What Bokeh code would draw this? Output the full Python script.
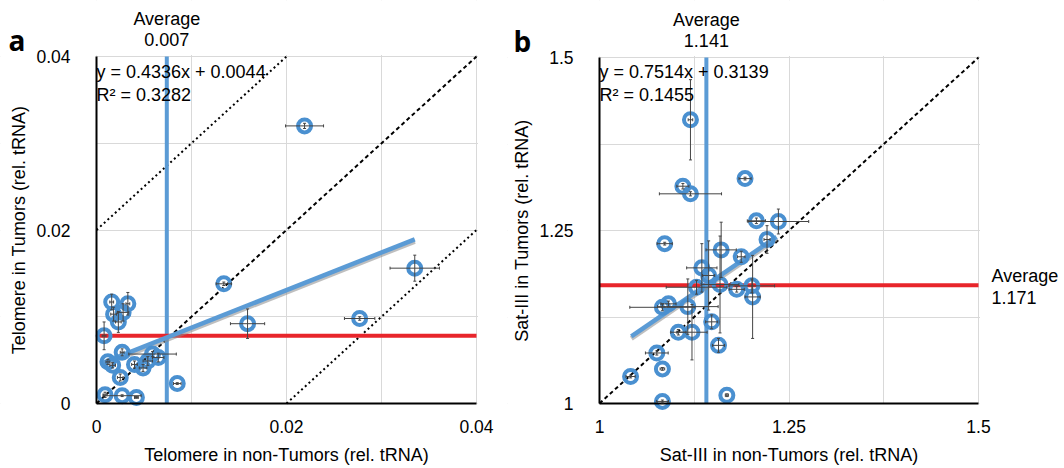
from bokeh.plotting import figure
from bokeh.layouts import row
from bokeh.models import Range1d, FixedTicker, Label, Whisker, TeeHead, ColumnDataSource
from bokeh.embed import file_html
from bokeh.resources import INLINE

# ---------------- data: panel a (Telomere) ----------------
a_x = [0.0219, 0.0134, 0.0159, 0.0277, 0.0335, 0.0085, 0.0008, 0.0016, 0.0033, 0.0018,
       0.0028, 0.0023, 0.0027, 0.0012, 0.0017, 0.0040, 0.0049, 0.0054, 0.0059, 0.0065,
       0.0025, 0.0009, 0.0027, 0.0042]
a_y = [0.0320, 0.0138, 0.0092, 0.0098, 0.0156, 0.0023, 0.0078, 0.0117, 0.0115, 0.0103,
       0.0105, 0.0094, 0.0059, 0.0048, 0.0044, 0.0045, 0.0041, 0.0049, 0.0057, 0.0053,
       0.0030, 0.0010, 0.0009, 0.0007]
a_xerr = [0.0020, 0.0008, 0.0018, 0.0016, 0.0026, 0.0004, 0.0002, 0.0002, 0.0002, 0.0003,
          0.0006, 0.0003, 0.0002, 0.0002, 0.0003, 0.0003, 0.0004, 0.0005, 0.0025, 0.0006,
          0.0003, 0.0002, 0.0020, 0.0002]
a_yerr = [0.0003, 0.0002, 0.0017, 0.0002, 0.0015, 0.0001, 0.0016, 0.0009, 0.0013, 0.0008,
          0.0010, 0.0012, 0.0004, 0.0003, 0.0003, 0.0004, 0.0004, 0.0005, 0.0003, 0.0005,
          0.0004, 0.0003, 0.0001, 0.0001]
a_fit_slope, a_fit_icpt = 0.4336, 0.0044
a_fit_x = [0.0006, 0.0335]
a_avg_x, a_avg_y = 0.0074, 0.0078
a_avg_label = "0.007"
a_eq = "y = 0.4336x + 0.0044"
a_r2 = "R² = 0.3282"
a_ticks = [0, 0.02, 0.04]
a_grid = [0, 0.01, 0.02, 0.03, 0.04]
a_tick_labels = {0: "0", 0.02: "0.02", 0.04: "0.04"}

# ---------------- data: panel b (Sat-III) ----------------
b_x = [1.120, 1.192, 1.110, 1.120, 1.207, 1.236, 1.086, 1.221, 1.1605, 1.187,
       1.135, 1.144, 1.128, 1.159, 1.181, 1.201, 1.202, 1.083, 1.091, 1.1165,
       1.148, 1.104, 1.122, 1.157, 1.0756, 1.083, 1.041, 1.083, 1.168]
b_y = [1.410, 1.325, 1.314, 1.303, 1.264, 1.263, 1.231, 1.237, 1.222, 1.212,
       1.196, 1.185, 1.168, 1.172, 1.165, 1.170, 1.154, 1.139, 1.144, 1.140,
       1.118, 1.103, 1.103, 1.084, 1.073, 1.050, 1.039, 1.003, 1.012]
b_xerr = [0.003, 0.008, 0.008, 0.041, 0.012, 0.040, 0.010, 0.004, 0.020, 0.005,
          0.020, 0.008, 0.040, 0.025, 0.010, 0.030, 0.010, 0.043, 0.010, 0.040,
          0.008, 0.010, 0.020, 0.008, 0.015, 0.003, 0.006, 0.008, 0.002]
b_yerr = [0.058, 0.002, 0.004, 0.003, 0.004, 0.018, 0.002, 0.020, 0.040, 0.008,
          0.035, 0.050, 0.010, 0.070, 0.004, 0.010, 0.060, 0.005, 0.004, 0.040,
          0.010, 0.004, 0.040, 0.010, 0.003, 0.002, 0.002, 0.002, 0.002]
b_fit_slope, b_fit_icpt = 0.7514, 0.3139
b_fit_x = [1.042, 1.2335]
b_avg_x, b_avg_y = 1.141, 1.171
b_avg_x_label = "1.141"
b_avg_y_label = "1.171"
b_eq = "y = 0.7514x + 0.3139"
b_r2 = "R² = 0.1455"
b_ticks = [1, 1.25, 1.5]
b_grid = [1, 1.125, 1.25, 1.375, 1.5]
b_tick_labels = {1: "1", 1.25: "1.25", 1.5: "1.5"}

BLUE = "#4a90d0"
BLUE_LINE = "#5b9bd5"
RED = "#e8252b"
GRID = "#d9d9d9"
ERR = "#444444"
FONT = "Liberation Sans"
FS = "18px"
FS_TICK = "17.5px"

# page layout (pixels) ------------------------------------------------------
OX, OY = 1, 1          # where the page puts the first figure (measured)
FIG_H = 466
WA, WB = 507, 554


class Panel:
    """Maps page pixels to data for a figure whose frame fills the whole figure."""

    def __init__(self, left, width, px0, px1, py0, py1, x0, x1, y0, y1):
        self.left, self.width = left, width
        self.kx = (x1 - x0) / (px1 - px0)
        self.ky = (y1 - y0) / (py0 - py1)
        self.px0, self.py0, self.x0, self.y0 = px0, py0, x0, y0
        self.lim = (x0, x1, y0, y1)

    def x(self, px):
        return self.x0 + (px - self.px0) * self.kx

    def y(self, py):
        return self.y0 + (self.py0 - py) * self.ky


def make_panel(g, xlabel, ylabel, ticks, grid, tick_labels):
    x0, x1, y0, y1 = g.lim
    xr = Range1d(g.x(g.left), g.x(g.left + g.width))
    yr = Range1d(g.y(OY + FIG_H), g.y(OY))
    p = figure(output_backend="svg", toolbar_location=None, title=None,
               frame_width=g.width, frame_height=FIG_H,
               min_border_left=0, min_border_right=0,
               min_border_top=0, min_border_bottom=0,
               x_range=xr, y_range=yr)
    p.outline_line_color = None
    p.background_fill_color = "white"
    p.border_fill_color = "white"
    for ax in (p.xaxis, p.yaxis):
        ax.ticker = FixedTicker(ticks=ticks)
        ax.major_label_overrides = tick_labels
        ax.major_tick_line_color = None
        ax.minor_tick_line_color = None
        ax.axis_line_color = "black"
        ax.axis_line_width = 2
        ax.major_label_text_font = FONT
        ax.major_label_text_font_size = FS_TICK
        ax.major_label_text_color = "black"
        ax.axis_label_text_font = FONT
        ax.axis_label_text_font_size = FS
        ax.axis_label_text_font_style = "normal"
        ax.axis_label_text_color = "black"
    p.xaxis.bounds = (x0, x1)
    p.yaxis.bounds = (y0, y1)
    p.xaxis.fixed_location = y0
    p.yaxis.fixed_location = x0
    p.xaxis.axis_label = xlabel
    p.yaxis.axis_label = ylabel
    p.yaxis.major_label_standoff = 20
    p.xaxis.major_label_standoff = 10
    p.yaxis.axis_label_standoff = 4
    p.xaxis.axis_label_standoff = 9
    p.xgrid.ticker = FixedTicker(ticks=grid)
    p.ygrid.ticker = FixedTicker(ticks=grid)
    p.grid.grid_line_color = GRID
    p.grid.grid_line_width = 1
    # white masks so that grid lines stay inside the plotting area
    X0, X1, Y0, Y1 = xr.start, xr.end, yr.start, yr.end
    ex = 1.5 * g.kx
    ey = 1.5 * g.ky
    p.quad(left=[X0, x1 + ex, X0, X0], right=[x0, X1, X1, X1],
           bottom=[Y0, Y0, Y0, y1 + ey], top=[Y1, Y1, y0, Y1],
           fill_color="white", line_color=None)
    return p


def add_points(p, xs, ys, xe, ye):
    p.scatter(xs, ys, marker="circle", size=13, line_width=4,
              line_color=BLUE, fill_color=None)
    src = ColumnDataSource(dict(
        x=xs, y=ys,
        xl=[a - b for a, b in zip(xs, xe)], xu=[a + b for a, b in zip(xs, xe)],
        yl=[a - b for a, b in zip(ys, ye)], yu=[a + b for a, b in zip(ys, ye)]))
    for dim, lo, hi, base in (("width", "xl", "xu", "y"), ("height", "yl", "yu", "x")):
        w = Whisker(source=src, base=base, lower=lo, upper=hi, dimension=dim,
                    line_color=ERR, line_width=1,
                    upper_head=TeeHead(size=3, line_width=1, line_color=ERR),
                    lower_head=TeeHead(size=3, line_width=1, line_color=ERR),
                    level="overlay")
        p.add_layout(w)


def add_fit(p, fx, slope, icpt, dy_shadow):
    fy = [slope * v + icpt for v in fx]
    p.line(fx, [v - dy_shadow for v in fy], line_color="#8a8a8a",
           line_alpha=0.55, line_width=5)
    p.line(fx, fy, line_color=BLUE_LINE, line_width=4.5)


def lab(p, x, y, text, align="left", size=FS, bold=False, font=FONT, baseline="middle"):
    p.add_layout(Label(x=x, y=y, text=text, text_align=align, text_baseline=baseline,
                       text_font=font, text_font_size=size, text_color="black",
                       text_font_style="bold" if bold else "normal", level="overlay"))


# ---------------- panel a ----------------
ga = Panel(OX, WA, 97, 477, 404, 57, 0.0, 0.04, 0.0, 0.04)
pa = make_panel(ga, "Telomere in non-Tumors (rel. tRNA)", "Telomere in Tumors (rel. tRNA)",
                a_ticks, a_grid, a_tick_labels)
pa.line([0, 0.04], [0, 0.04], line_color="black", line_width=2, line_dash="4 3")
pa.line([0, 0.02], [0.02, 0.04], line_color="black", line_width=2, line_dash="2 3")
pa.line([0.02, 0.04], [0, 0.02], line_color="black", line_width=2, line_dash="2 3")
pa.line([a_avg_x, a_avg_x], [0, 0.04], line_color=BLUE_LINE, line_width=4)
pa.line([0, 0.04], [a_avg_y, a_avg_y], line_color=RED, line_width=4)
add_fit(pa, a_fit_x, a_fit_slope, a_fit_icpt, 2 * ga.ky)
add_points(pa, a_x, a_y, a_xerr, a_yerr)
lab(pa, ga.x(97), ga.y(72), a_eq)
lab(pa, ga.x(97), ga.y(95), a_r2)
lab(pa, a_avg_x, ga.y(19), "Average", align="center")
lab(pa, a_avg_x, ga.y(40), a_avg_label, align="center")
lab(pa, ga.x(9), ga.y(40), "a", size="28px", bold=True, font="Open Sans")

# ---------------- panel b ----------------
gb = Panel(OX + WA, WB, 600, 979, 404, 58, 1.0, 1.5, 1.0, 1.5)
pb = make_panel(gb, "Sat-III in non-Tumors (rel. tRNA)", "Sat-III in Tumors (rel. tRNA)",
                b_ticks, b_grid, b_tick_labels)
pb.line([1.0, 1.5], [1.0, 1.5], line_color="black", line_width=2, line_dash="4 3")
pb.line([b_avg_x, b_avg_x], [1.0, 1.5], line_color=BLUE_LINE, line_width=4)
pb.line([1.0, 1.5], [b_avg_y, b_avg_y], line_color=RED, line_width=4)
add_fit(pb, b_fit_x, b_fit_slope, b_fit_icpt, 2 * gb.ky)
add_points(pb, b_x, b_y, b_xerr, b_yerr)
lab(pb, gb.x(600), gb.y(72), b_eq)
lab(pb, gb.x(600), gb.y(95), b_r2)
lab(pb, b_avg_x, gb.y(20), "Average", align="center")
lab(pb, b_avg_x, gb.y(41), b_avg_x_label, align="center")
lab(pb, gb.x(992), gb.y(276), "Average")
lab(pb, gb.x(992), gb.y(298), b_avg_y_label)
lab(pb, gb.x(514), gb.y(41), "b", size="28px", bold=True, font="Open Sans")

layout = row(pa, pb)
open("out.html", "w").write(file_html(layout, INLINE))
